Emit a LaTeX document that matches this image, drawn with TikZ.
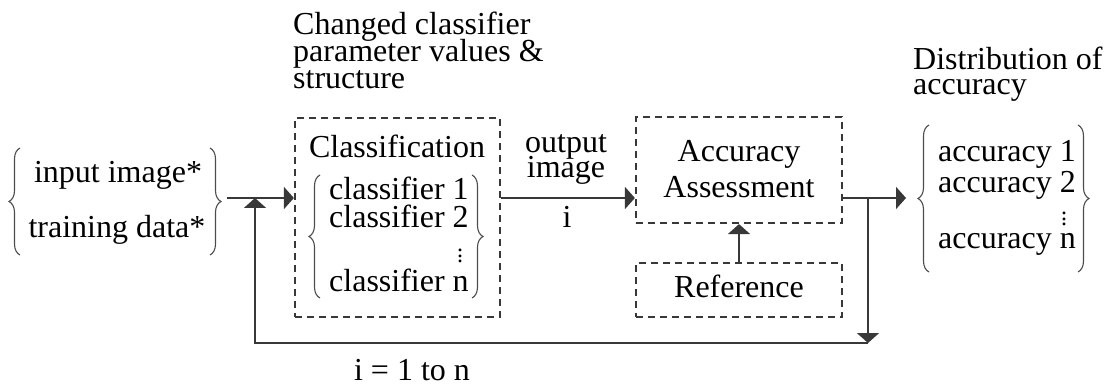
\documentclass[tikz,border=0pt]{standalone}
\usepackage{fontspec}
\setmainfont{Liberation Serif}
\usetikzlibrary{arrows.meta,decorations.pathreplacing}

\tikzset{
  ink/.style={draw=black!78, line width=1.8pt},
  dbox/.style={ink, dash pattern=on 7pt off 5pt, line width=2.2pt, inner sep=0pt},
  arr/.style={ink, -{Triangle[length=10pt,width=22pt]}},
  curly/.style={draw=black!70, line width=1.1pt, decorate,
    decoration={brace, amplitude=11pt}},
  txt/.style={font=\fontsize{32}{27}\selectfont, inner sep=0pt, text=black},
  dotsy/.style={font=\fontsize{24}{24}\selectfont, inner sep=0pt},
}
% three stacked dots, set close together
\newcommand{\stackdots}{\vbox{\baselineskip=5.5pt\lineskiplimit=-20pt\hbox{.}\hbox{.}\hbox{.}}}

\begin{document}
\begin{tikzpicture}[x=1pt,y=1pt]
\useasboundingbox (0,0) rectangle (1112,-385);

% inputs
\node[txt, anchor=base] (img) at (118,-183) {input image*};
\node[txt, anchor=base] (trn) at (117,-237) {training data*};
\draw[curly] (20,-255) -- (20,-148);
\draw[curly] (210,-148) -- (210,-255);
\coordinate (inR) at (227,-198);

% classification block
\node[txt, anchor=base west] (chg1) at (293,-35) {Changed classifier};
\node[txt, anchor=base west] (chg2) at (293,-62) {parameter values \&};
\node[txt, anchor=base west] (chg3) at (293,-89) {structure};
\node[dbox, minimum width=205pt, minimum height=199pt] (cls) at (397.5,-217.5) {};
\node[txt, anchor=base] (clst) at (397,-158) {Classification};
\node[txt, anchor=base west] (c1) at (329,-200) {classifier 1};
\node[txt, anchor=base west] (c2) at (329,-227) {classifier 2};
\node[dotsy] (cd) at (460,-256) {\stackdots};
\node[txt, anchor=base west] (cn) at (329,-291) {classifier n};
\draw[curly] (320,-298) -- (320,-175);
\draw[curly] (472,-175) -- (472,-298);

% accuracy assessment and reference
\node[dbox, minimum width=206pt, minimum height=106pt] (acc) at (739,-170) {};
\node[txt, anchor=base] (acct) at (739,-162) {Accuracy};
\node[txt, anchor=base] (asst) at (739,-198) {Assessment};
\node[dbox, minimum width=206pt, minimum height=54pt] (ref) at (739,-290) {};
\node[txt, anchor=base] (reft) at (739,-297) {Reference};

% labels on the output link
\node[txt, anchor=base] (outl) at (566,-153) {output};
\node[txt, anchor=base] (imgl) at (566,-178) {image};
\node[txt, anchor=base] (il) at (567,-228) {i};

% distribution of accuracy
\node[txt, anchor=base west] (dist) at (913,-70) {Distribution of};
\node[txt, anchor=base west] (dist2) at (913,-95) {accuracy};
\node[txt, anchor=base west] (a1) at (938,-162) {accuracy 1};
\node[txt, anchor=base west] (a2) at (938,-193) {accuracy 2};
\node[dotsy] (ad) at (1064,-219) {\stackdots};
\node[txt, anchor=base west] (an) at (938,-248) {accuracy n};
\draw[curly] (929,-272) -- (929,-125);
\draw[curly] (1078,-125) -- (1078,-272);
\coordinate (outL) at (906,-198);

% loop label
\node[txt, anchor=base] (loopt) at (412,-380) {i = 1 to n};

% connectors
\coordinate (mainY) at (0,-198);
\coordinate (jn) at (868,-198);
\coordinate (loopR) at (868,-343);
\coordinate (loopL) at (255,-343);
\coordinate (fb) at (255,-198);

\draw[arr] (inR) -- (inR -| cls.west);
\draw[arr] (cls.east |- mainY) -- (acc.west |- mainY);
\draw[arr] (acc.east |- mainY) -- (outL);
\draw[arr] (jn) -- (loopR);
\draw[arr] (loopR) -- (loopL) -- (fb);
\draw[arr] (ref.north) -- (acc.south);
\end{tikzpicture}
\end{document}
